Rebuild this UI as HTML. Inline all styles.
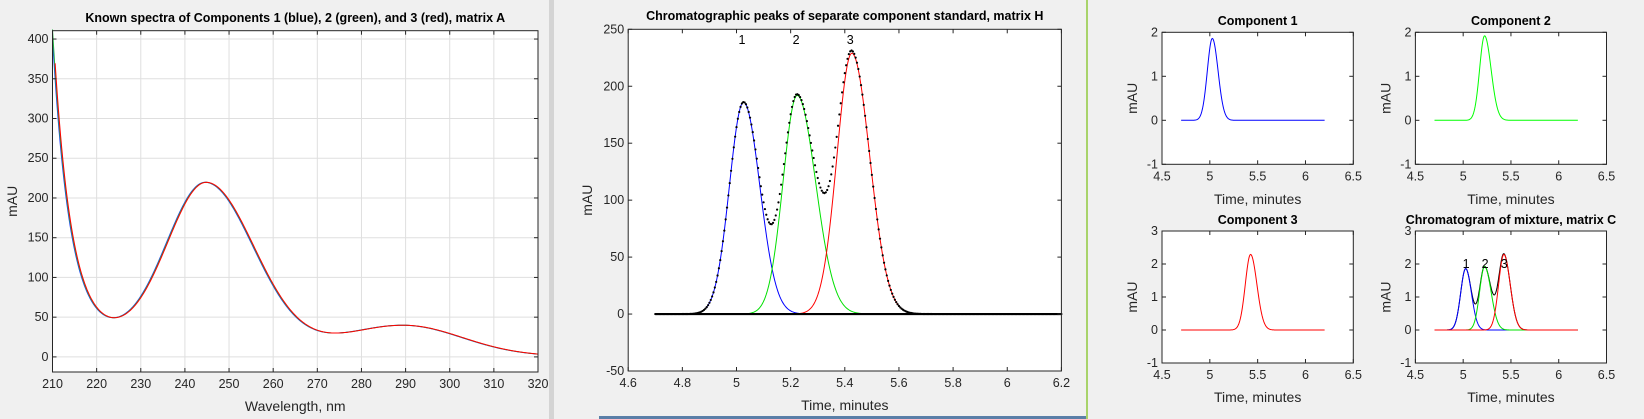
<!DOCTYPE html>
<html><head><meta charset="utf-8"><style>
html,body{margin:0;padding:0;background:#f0f0f0;width:1644px;height:419px;overflow:hidden}
svg{display:block}
text{font-family:"Liberation Sans",Arial,sans-serif;fill:#262626}
</style></head><body>
<svg id="s" width="1644" height="419" xmlns="http://www.w3.org/2000/svg">
<rect x="0" y="0" width="1644" height="419" fill="#f0f0f0"/>
<rect x="549" y="0" width="5" height="419" fill="#d4d4d4"/>
<rect x="1086" y="0" width="2" height="419" fill="#a8d36a"/>
<rect x="599" y="416" width="487" height="3" fill="#5a7fa8"/>
</svg>
<script>
const S=document.getElementById('s');const NS='http://www.w3.org/2000/svg';
function el(t,a,txt){const e=document.createElementNS(NS,t);for(const k in a)e.setAttribute(k,a[k]);if(txt!==undefined)e.textContent=txt;S.appendChild(e);return e;}
function axes(o){
 const X=v=>o.L+(v-o.x0)/(o.x1-o.x0)*(o.R-o.L);
 const Y=v=>o.B-(v-o.y0)/(o.y1-o.y0)*(o.B-o.T);
 el('rect',{x:o.L,y:o.T,width:o.R-o.L,height:o.B-o.T,fill:'#fff'});
 if(o.grid){o.xt.forEach(v=>el('line',{x1:X(v),x2:X(v),y1:o.T,y2:o.B,stroke:'#dfdfdf','stroke-width':1}));
  o.yt.forEach(v=>el('line',{x1:o.L,x2:o.R,y1:Y(v),y2:Y(v),stroke:'#dfdfdf','stroke-width':1}));}
 o.X=X;o.Y=Y;return o;}
function finish(o){
 const X=o.X,Y=o.Y;
 o.xt.forEach(v=>{el('line',{x1:X(v),x2:X(v),y1:o.B,y2:o.B-4,stroke:'#262626'});el('line',{x1:X(v),x2:X(v),y1:o.T,y2:o.T+4,stroke:'#262626'});
  el('text',{x:X(v),y:o.B+16,'font-size':o.fs,'text-anchor':'middle'},String(v));});
 o.yt.forEach(v=>{el('line',{x1:o.L,x2:o.L+4,y1:Y(v),y2:Y(v),stroke:'#262626'});el('line',{x1:o.R,x2:o.R-4,y1:Y(v),y2:Y(v),stroke:'#262626'});
  el('text',{x:o.L-4,y:Y(v)+4,'font-size':o.fs,'text-anchor':'end'},String(v));});
 el('rect',{x:o.L,y:o.T,width:o.R-o.L,height:o.B-o.T,fill:'none',stroke:'#262626','stroke-width':1});
 el('text',{x:(o.L+o.R)/2,y:o.tY,'font-size':12.5,'font-weight':'bold','text-anchor':'middle',style:'fill:#000'},o.title);
 el('text',{x:(o.L+o.R)/2,y:o.xlY,'font-size':14,'text-anchor':'middle'},o.xl);
 el('text',{x:o.ylX,y:(o.T+o.B)/2,'font-size':14,'text-anchor':'middle',transform:`rotate(-90 ${o.ylX} ${(o.T+o.B)/2})`},'mAU');
}
function line(o,f,a,b,n,col,w){let p=[];for(let i=0;i<=n;i++){const x=a+(b-a)*i/n;p.push(o.X(x).toFixed(2)+','+o.Y(f(x)).toFixed(2));}
 el('polyline',{points:p.join(' '),fill:'none',stroke:col,'stroke-width':w||1});}
function pk(c,h,sl,sr){return x=>{const s=x<c?sl:sr;return h*Math.exp(-(x-c)*(x-c)/(2*s*s));};}
// Panel 1
const a1=axes({L:52.5,R:538,T:30.7,B:372,x0:210,x1:320,y0:-19,y1:410.5,grid:true,
 xt:[210,220,230,240,250,260,270,280,290,300,310,320],yt:[0,50,100,150,200,250,300,350,400],fs:12.5,
 title:'Known spectra of Components 1 (blue), 2 (green), and 3 (red), matrix A',tY:22,xlY:411,ylX:17,xl:'Wavelength, nm'});
const spec=x=>385*Math.exp(-(x-210)/3.9)+40*Math.exp(-(x-210)/30)+pk(245,207,9,10.9)(x)+pk(290,37,14,13)(x);
const clip=f=>x=>Math.min(f(x),412);
line(a1,x=>clip(spec)(x+0.25),210,320,440,'#1f3fff');
line(a1,x=>clip(spec)(x+0.12),210,320,440,'#20b040');
line(a1,clip(spec),210.6,320,440,'#ff0000');
finish(a1);
// Panel 2
const a2=axes({L:628.2,R:1061.4,T:29.3,B:371,x0:4.6,x1:6.2,y0:-50,y1:250,
 xt:[4.6,4.8,5,5.2,5.4,5.6,5.8,6,6.2],yt:[-50,0,50,100,150,200,250],fs:12.5,
 title:'Chromatographic peaks of separate component standard, matrix H',tY:20,xlY:410,ylX:592,xl:'Time, minutes'});
const p1=pk(5.026,186,0.052,0.06),p2=pk(5.224,192,0.052,0.068),p3=pk(5.426,229,0.055,0.066);
line(a2,p1,4.82,5.8,400,'#0000ff');line(a2,p2,4.82,5.8,400,'#00e000');line(a2,p3,4.82,5.8,400,'#ff0000');
const sum=x=>p1(x)+p2(x)+p3(x);
for(let i=0;i<=300;i++){const x=4.7+1.5*i/300;el('circle',{cx:a2.X(x),cy:a2.Y(sum(x)),r:1.1,fill:'#000'});}
el('line',{x1:a2.X(4.7),x2:a2.X(6.2),y1:a2.Y(0),y2:a2.Y(0),stroke:'#000','stroke-width':2.2});
[[5.02,'1'],[5.22,'2'],[5.42,'3']].forEach(([v,t])=>el('text',{x:a2.X(v),y:44,'font-size':12.5,'text-anchor':'middle',style:'fill:#000'},t));
finish(a2);
// Panel 3 subplots
const sub=(L,R,T,B,y0,y1,yt,title,tY,xlY)=>axes({L,R,T,B,x0:4.5,x1:6.5,y0,y1,xt:[4.5,5,5.5,6,6.5],yt,fs:12.5,title,tY,xlY,ylX:L-25,xl:'Time, minutes'});
const q1=pk(5.026,1.86,0.052,0.06),q2=pk(5.224,1.92,0.052,0.068),q3=pk(5.426,2.29,0.055,0.066);
const s1=sub(1162,1353.3,32.3,164.3,-1,2,[-1,0,1,2],'Component 1',25,204);
line(s1,q1,4.7,6.2,300,'#0000ff');finish(s1);
const s2=sub(1415.4,1606.5,32.3,164.3,-1,2,[-1,0,1,2],'Component 2',25,204);
line(s2,q2,4.7,6.2,300,'#00ff00');finish(s2);
const s3=sub(1162,1353.3,231,363,-1,3,[-1,0,1,2,3],'Component 3',224,402);
line(s3,q3,4.7,6.2,300,'#ff0000');finish(s3);
const s4=sub(1415.4,1606.5,231,363,-1,3,[-1,0,1,2,3],'Chromatogram of mixture, matrix C',224,402);
line(s4,x=>q1(x)+q2(x)+q3(x),4.7,6.2,300,'#000');
line(s4,q1,4.7,6.2,300,'#0000ff');line(s4,q2,4.7,6.2,300,'#00e000');line(s4,q3,4.7,6.2,300,'#ff0000');
[[5.03,'1'],[5.23,'2'],[5.43,'3']].forEach(([v,t])=>el('text',{x:s4.X(v),y:268,'font-size':12.5,'text-anchor':'middle',style:'fill:#000'},t));
finish(s4);
</script>
</body></html>
